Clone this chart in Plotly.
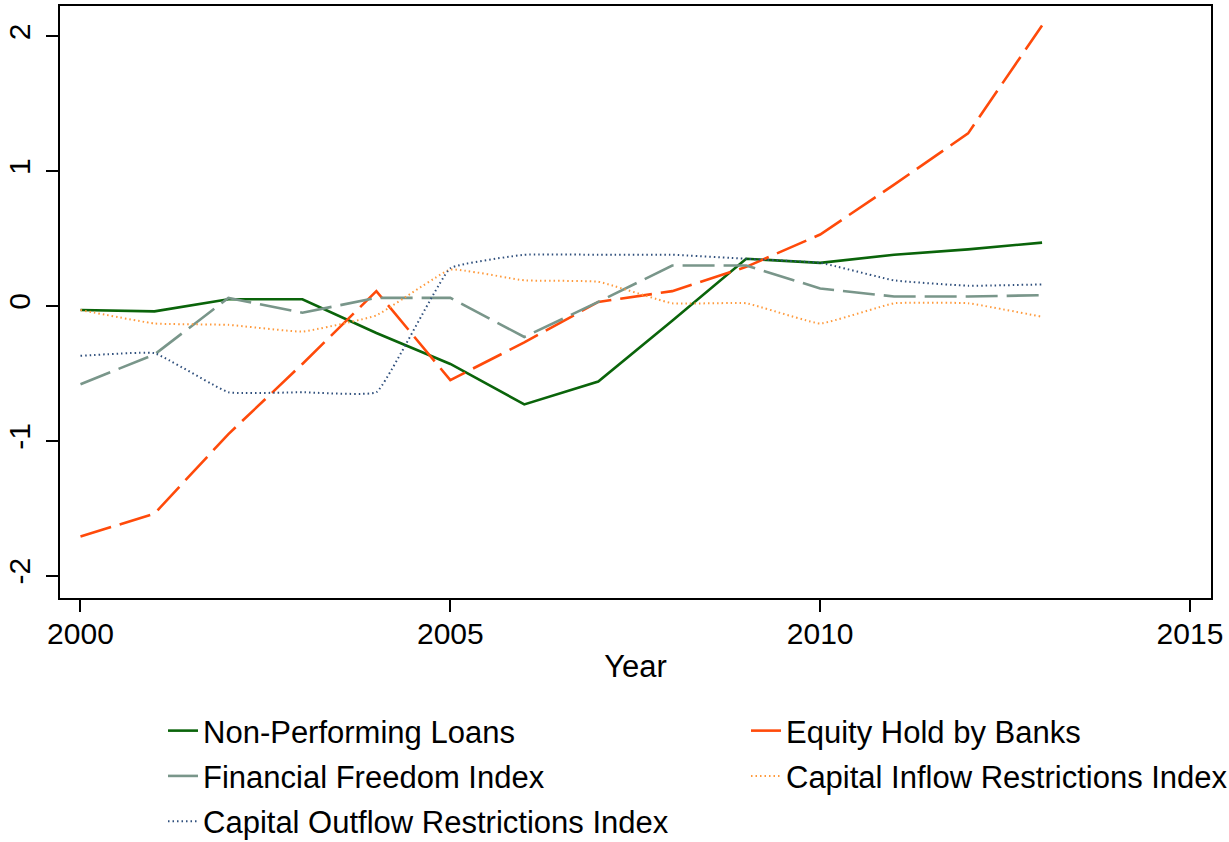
import plotly.graph_objects as go

years = list(range(2000, 2014))

npl = [-0.03, -0.04, 0.05, 0.05, -0.20, -0.43, -0.73, -0.56, -0.11, 0.35, 0.32, 0.38, 0.42, 0.47]
equity = [-1.71, -1.54, -0.95, -0.43, 0.11, -0.55, -0.27, 0.03, 0.11, 0.29, 0.53, 0.90, 1.28, 2.08]
ffi = [-0.58, -0.36, 0.06, -0.05, 0.06, 0.06, -0.23, 0.03, 0.30, 0.30, 0.13, 0.07, 0.07, 0.08]
inflow = [-0.03, -0.13, -0.14, -0.19, -0.07, 0.27, 0.19, 0.18, 0.02, 0.02, -0.13, 0.02, 0.02, -0.08]
outflow = [-0.37, -0.35, -0.64, -0.64, -0.64, 0.28, 0.38, 0.38, 0.38, 0.35, 0.32, 0.19, 0.15, 0.16]

series_names = ["Non-Performing Loans", "Equity Hold by Banks", "Financial Freedom Index",
                "Capital Inflow Restrictions Index", "Capital Outflow Restrictions Index"]

x_ticks = [2000, 2005, 2010, 2015]
y_ticks = [-2, -1, 0, 1, 2]
y_tick_text = ["-2", "-1", "0", "1", "2"]

FONT = "Liberation Sans, Arial, Helvetica, sans-serif"

fig = go.Figure()
fig.add_trace(go.Scatter(x=years, y=npl, name=series_names[0], mode="lines", legend="legend",
                         legendgroup="g1", line=dict(color="#0a640a", width=2.6)))
fig.add_trace(go.Scatter(x=years, y=equity, name=series_names[1], mode="lines", legend="legend2",
                         legendgroup="g2", line=dict(color="#ff4a0a", width=2.6, dash="32px,9px")))
fig.add_trace(go.Scatter(x=years, y=ffi, name=series_names[2], mode="lines", legend="legend",
                         legendgroup="g3", line=dict(color="#79968a", width=2.6, dash="32px,9px")))
fig.add_trace(go.Scatter(x=years, y=inflow, name=series_names[3], mode="lines", legend="legend2",
                         legendgroup="g4",
                         line=dict(color="#ff9a3c", width=2, dash="1.5px,3px", shape="spline", smoothing=0.3)))
fig.add_trace(go.Scatter(x=years, y=outflow, name=series_names[4], mode="lines", legend="legend",
                         legendgroup="g5",
                         line=dict(color="#2f4f7c", width=2, dash="1.5px,3px", shape="spline", smoothing=0.3)))

leg_common = dict(orientation="v", yanchor="top", xanchor="left", itemwidth=30,
                  bgcolor="rgba(0,0,0,0)", font=dict(family=FONT, size=31, color="black"),
                  traceorder="grouped", tracegroupgap=2)

fig.update_layout(
    template="none",
    width=1229, height=842,
    margin=dict(l=60, r=18, t=6, b=244, autoexpand=False),
    paper_bgcolor="white", plot_bgcolor="white",
    font=dict(family=FONT, size=30, color="black"),
    showlegend=True,
    legend=dict(x=0.0895, y=-0.179, **leg_common),
    legend2=dict(x=0.596, y=-0.179, **leg_common),
    xaxis=dict(
        range=[1999.723, 2015.284], tickvals=x_ticks, ticks="outside", ticklen=12,
        tickwidth=1.5, tickcolor="black", showline=True, linecolor="black", linewidth=2,
        mirror=True, showgrid=False, zeroline=False, automargin=False,
        tickfont=dict(family=FONT, size=30), ticklabelstandoff=-4,
        title=dict(text="Year", font=dict(family=FONT, size=31), standoff=6),
    ),
    yaxis=dict(
        range=[-2.166, 2.225], tickvals=y_ticks, ticktext=y_tick_text, ticks="outside",
        ticklen=12, tickwidth=1.5, tickcolor="black", showline=True, linecolor="black",
        linewidth=2, mirror=True, showgrid=False, zeroline=False, tickangle=-90,
        automargin=False, tickfont=dict(family=FONT, size=30), ticklabelstandoff=4,
    ),
)

fig.write_html("out.html", config={"displayModeBar": False},
               post_script="document.body.style.margin='0px';document.body.style.overflow='hidden';")
